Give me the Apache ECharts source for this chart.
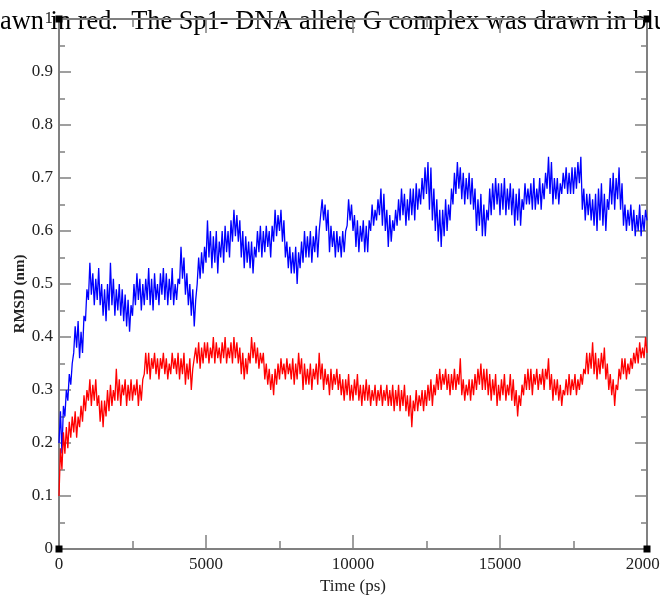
<!DOCTYPE html>
<html>
<head>
<meta charset="utf-8">
<script src="https://cdn.jsdelivr.net/npm/echarts@6/dist/echarts.min.js"></script>
<style>
html,body{margin:0;padding:0;background:#fff;}
#chart{width:660px;height:595px;}
</style>
</head>
<body>
<div id="chart"></div>
<script>
// Time sampling (ps) of the trajectory traces
const timeStepPs = 50;
const xTickValues = [0, 5000, 10000, 15000, 20000];
const yTickValues = [0, 0.1, 0.2, 0.3, 0.4, 0.5, 0.6, 0.7, 0.8, 0.9, 1];
const captionText = 'drawn in red.  The Sp1- DNA allele G complex was drawn in blue';

// Sp1-DNA allele G complex (blue), RMSD in nm, one value per 50 ps
const rmsdBlue = [
0.20,0.26,0.18,0.27,0.25,0.30,0.28,0.33,0.31,0.35,
0.37,0.42,0.38,0.43,0.36,0.41,0.37,0.44,0.43,0.49,
0.47,0.54,0.48,0.52,0.46,0.51,0.47,0.53,0.46,0.50,
0.44,0.49,0.43,0.50,0.45,0.54,0.46,0.51,0.44,0.49,
0.45,0.50,0.44,0.49,0.43,0.48,0.42,0.47,0.41,0.46,
0.44,0.50,0.46,0.52,0.47,0.51,0.45,0.50,0.46,0.51,
0.47,0.53,0.46,0.51,0.45,0.52,0.47,0.50,0.46,0.52,
0.48,0.53,0.47,0.52,0.46,0.51,0.47,0.53,0.46,0.50,
0.47,0.51,0.50,0.57,0.51,0.55,0.48,0.52,0.46,0.50,
0.44,0.49,0.42,0.47,0.50,0.55,0.51,0.56,0.52,0.57,
0.54,0.62,0.55,0.60,0.53,0.59,0.54,0.60,0.52,0.58,
0.55,0.60,0.54,0.61,0.56,0.60,0.55,0.62,0.58,0.64,
0.59,0.63,0.58,0.62,0.55,0.60,0.53,0.59,0.54,0.58,
0.53,0.58,0.52,0.57,0.55,0.60,0.56,0.61,0.55,0.60,
0.56,0.61,0.57,0.60,0.55,0.61,0.58,0.64,0.59,0.63,
0.60,0.64,0.58,0.62,0.55,0.58,0.53,0.57,0.52,0.56,
0.52,0.57,0.50,0.56,0.53,0.58,0.54,0.60,0.55,0.59,
0.55,0.60,0.54,0.59,0.56,0.61,0.55,0.60,0.60,0.66,
0.62,0.65,0.60,0.64,0.56,0.61,0.57,0.60,0.55,0.60,
0.56,0.59,0.55,0.60,0.56,0.60,0.61,0.66,0.62,0.65,
0.60,0.63,0.57,0.62,0.56,0.61,0.58,0.62,0.56,0.61,
0.56,0.62,0.60,0.65,0.61,0.64,0.62,0.66,0.63,0.68,
0.61,0.67,0.60,0.64,0.57,0.63,0.58,0.62,0.60,0.64,
0.61,0.66,0.62,0.68,0.63,0.67,0.61,0.66,0.62,0.68,
0.63,0.68,0.62,0.69,0.64,0.68,0.65,0.70,0.66,0.72,
0.67,0.73,0.64,0.72,0.62,0.68,0.60,0.66,0.58,0.64,
0.57,0.64,0.59,0.66,0.60,0.65,0.62,0.68,0.65,0.71,
0.67,0.73,0.68,0.72,0.66,0.71,0.65,0.70,0.66,0.71,
0.65,0.70,0.64,0.68,0.60,0.66,0.61,0.67,0.59,0.65,
0.59,0.64,0.62,0.68,0.63,0.69,0.64,0.70,0.65,0.69,
0.63,0.69,0.64,0.70,0.63,0.68,0.64,0.69,0.63,0.68,
0.61,0.67,0.62,0.68,0.61,0.66,0.64,0.69,0.65,0.68,
0.65,0.69,0.64,0.70,0.64,0.68,0.65,0.70,0.64,0.69,
0.66,0.71,0.68,0.74,0.67,0.73,0.65,0.70,0.66,0.70,
0.65,0.69,0.67,0.71,0.68,0.72,0.67,0.71,0.67,0.72,
0.67,0.72,0.68,0.73,0.69,0.74,0.64,0.68,0.62,0.67,
0.63,0.67,0.62,0.66,0.61,0.67,0.60,0.68,0.62,0.69,
0.61,0.67,0.60,0.66,0.64,0.70,0.65,0.71,0.64,0.70,
0.66,0.72,0.64,0.69,0.61,0.65,0.60,0.64,0.61,0.65,
0.60,0.64,0.59,0.63,0.60,0.65,0.59,0.63,0.60,0.64,0.62
];

// Sp1-DNA other complex (red), RMSD in nm, one value per 50 ps
const rmsdRed = [
0.10,0.19,0.15,0.22,0.18,0.23,0.19,0.24,0.21,0.25,
0.22,0.26,0.21,0.25,0.23,0.27,0.24,0.29,0.26,0.30,
0.28,0.32,0.27,0.31,0.28,0.32,0.27,0.29,0.24,0.28,
0.23,0.28,0.25,0.30,0.26,0.31,0.27,0.30,0.28,0.34,
0.28,0.32,0.27,0.31,0.29,0.32,0.27,0.31,0.28,0.32,
0.28,0.31,0.29,0.32,0.27,0.31,0.28,0.32,0.33,0.37,
0.33,0.37,0.32,0.36,0.34,0.37,0.33,0.36,0.32,0.36,
0.34,0.37,0.33,0.36,0.32,0.35,0.33,0.37,0.34,0.36,
0.33,0.37,0.32,0.36,0.33,0.37,0.31,0.35,0.32,0.36,
0.30,0.34,0.34,0.38,0.35,0.39,0.34,0.38,0.35,0.39,
0.36,0.39,0.35,0.38,0.36,0.40,0.35,0.39,0.36,0.38,
0.35,0.39,0.36,0.40,0.35,0.38,0.36,0.39,0.35,0.40,
0.36,0.39,0.35,0.38,0.33,0.37,0.32,0.36,0.33,0.37,
0.35,0.40,0.36,0.39,0.35,0.38,0.34,0.37,0.35,0.37,
0.32,0.35,0.31,0.34,0.30,0.33,0.29,0.34,0.31,0.35,
0.32,0.36,0.33,0.35,0.32,0.36,0.33,0.35,0.32,0.36,
0.31,0.35,0.32,0.37,0.33,0.36,0.30,0.35,0.31,0.34,
0.31,0.35,0.30,0.34,0.32,0.35,0.31,0.37,0.32,0.35,
0.30,0.34,0.31,0.33,0.29,0.34,0.30,0.33,0.31,0.34,
0.30,0.33,0.29,0.32,0.28,0.32,0.29,0.33,0.28,0.31,
0.28,0.32,0.29,0.33,0.28,0.31,0.27,0.31,0.28,0.32,
0.28,0.31,0.27,0.30,0.28,0.31,0.27,0.30,0.28,0.31,
0.27,0.30,0.28,0.31,0.27,0.30,0.27,0.31,0.26,0.30,
0.27,0.31,0.26,0.30,0.27,0.31,0.26,0.29,0.25,0.29,
0.23,0.28,0.26,0.30,0.26,0.29,0.27,0.30,0.26,0.30,
0.27,0.31,0.28,0.32,0.27,0.31,0.29,0.33,0.30,0.34,
0.30,0.33,0.31,0.34,0.30,0.33,0.29,0.33,0.30,0.34,
0.30,0.33,0.31,0.36,0.29,0.32,0.28,0.31,0.29,0.32,
0.28,0.32,0.29,0.33,0.30,0.34,0.31,0.35,0.30,0.34,
0.30,0.34,0.29,0.33,0.28,0.32,0.29,0.33,0.27,0.31,
0.28,0.32,0.29,0.33,0.28,0.31,0.29,0.33,0.28,0.32,
0.27,0.30,0.25,0.29,0.27,0.31,0.29,0.33,0.30,0.34,
0.30,0.34,0.29,0.33,0.31,0.34,0.30,0.33,0.31,0.34,
0.30,0.34,0.32,0.36,0.30,0.33,0.28,0.32,0.29,0.32,
0.28,0.31,0.27,0.30,0.29,0.32,0.29,0.33,0.29,0.32,
0.30,0.33,0.29,0.32,0.30,0.33,0.31,0.34,0.33,0.37,
0.33,0.37,0.34,0.39,0.33,0.37,0.32,0.36,0.33,0.37,
0.34,0.38,0.32,0.35,0.30,0.33,0.29,0.32,0.27,0.31,
0.30,0.34,0.32,0.36,0.33,0.36,0.32,0.35,0.33,0.36,
0.34,0.37,0.35,0.38,0.35,0.39,0.36,0.38,0.36,0.40,0.37
];

const toPairs = arr => arr.map((v, i) => [i * timeStepPs, v]);

const axisGray = '#808080';
const serif = '"Liberation Serif", "DejaVu Serif", serif';

const chart = echarts.init(document.getElementById('chart'), null, {renderer: 'canvas'});

const xBase = {
  type: 'value', min: xTickValues[0], max: xTickValues[xTickValues.length - 1],
  interval: xTickValues[1] - xTickValues[0],
  splitLine: {show: false},
  axisLine: {show: true, onZero: false, lineStyle: {color: axisGray, width: 2}},
  axisTick: {show: true, inside: true, length: 14, lineStyle: {color: axisGray, width: 1.5}},
  minorTick: {show: true, splitNumber: 2, length: 8, lineStyle: {color: axisGray, width: 1.5}}
};
const yBase = {
  type: 'value', min: yTickValues[0], max: yTickValues[yTickValues.length - 1],
  interval: 0.1,
  splitLine: {show: false},
  axisLine: {show: true, onZero: false, lineStyle: {color: axisGray, width: 2}},
  axisTick: {show: true, inside: true, length: 12, lineStyle: {color: axisGray, width: 1.5}},
  minorTick: {show: true, splitNumber: 2, length: 6, lineStyle: {color: axisGray, width: 1.5}}
};

const corners = [[0, 0], [20000, 0], [0, 1], [20000, 1]];

chart.setOption({
  animation: false,
  backgroundColor: '#ffffff',
  grid: {left: 59, right: 13, top: 19, bottom: 46, containLabel: false, outerBoundsMode: 'none'},
  xAxis: [
    Object.assign({}, xBase, {
      position: 'bottom',
      name: 'Time (ps)', nameLocation: 'middle', nameGap: 26,
      nameTextStyle: {fontFamily: serif, fontSize: 17, color: '#222'},
      axisLabel: {show: true, margin: 7, fontFamily: serif, fontSize: 17, color: '#222',
                  showMinLabel: true, showMaxLabel: true, hideOverlap: false,
                  formatter: v => String(v)}
    }),
    Object.assign({}, xBase, {position: 'top', axisLabel: {show: false}})
  ],
  yAxis: [
    Object.assign({}, yBase, {
      position: 'left',
      axisLabel: {show: true, margin: 6, fontFamily: serif, fontSize: 17, color: '#222',
                  showMinLabel: true, showMaxLabel: true,
                  formatter: v => String(Math.round(v * 10) / 10)}
    }),
    Object.assign({}, yBase, {position: 'right', axisLabel: {show: false}})
  ],
  graphic: [
    {type: 'text', x: 20, y: 294, rotation: Math.PI / 2,
     style: {text: 'RMSD (nm)', font: 'bold 15px "Liberation Serif"', fill: '#222',
             align: 'center', verticalAlign: 'middle'}},
    {type: 'text', x: -22, y: 9.5,
     style: {text: captionText, font: '26.4px "Liberation Serif"', fill: '#000',
             align: 'left', verticalAlign: 'alphabetic'}}
  ],
  series: [
    {
      name: 'Sp1-DNA allele G', type: 'line', xAxisIndex: 0, yAxisIndex: 0,
      data: toPairs(rmsdBlue), showSymbol: false, symbol: 'none', sampling: null,
      lineStyle: {color: '#0000ff', width: 1.3}, itemStyle: {color: '#0000ff'},
      markPoint: {
        silent: true, symbol: 'rect', symbolSize: 7,
        itemStyle: {color: '#000'}, label: {show: false},
        data: corners.map(c => ({coord: c}))
      }
    },
    {
      name: 'Sp1-DNA', type: 'line', xAxisIndex: 0, yAxisIndex: 0,
      data: toPairs(rmsdRed), showSymbol: false, symbol: 'none', sampling: null,
      lineStyle: {color: '#ff0000', width: 1.3}, itemStyle: {color: '#ff0000'}
    }
  ]
});
</script>
</body>
</html>
